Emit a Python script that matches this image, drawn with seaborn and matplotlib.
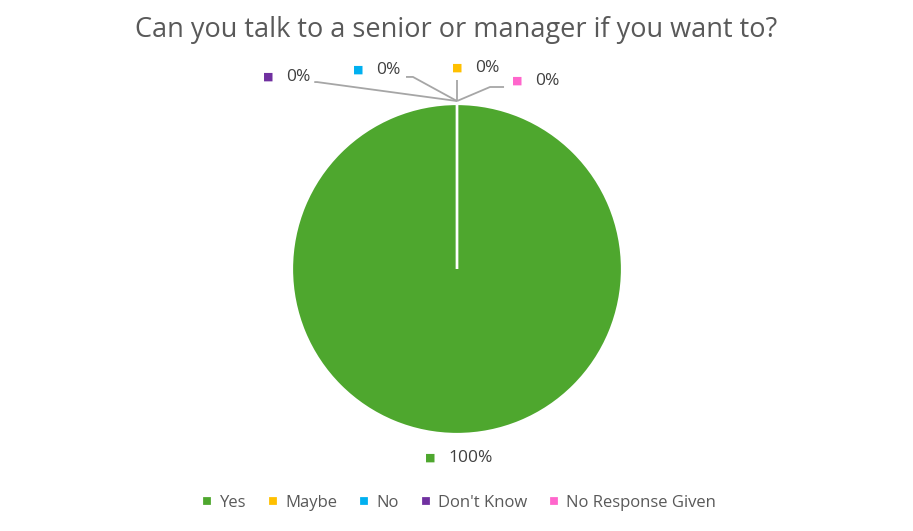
import matplotlib
matplotlib.use("Agg")
import matplotlib.pyplot as plt
import seaborn as sns

categories = ["Yes", "Maybe", "No", "Don't Know", "No Response Given"]
values = [100, 0, 0, 0, 0]
colors = ["#4EA72E", "#FFC000", "#00B0F0", "#7030A0", "#FF66CC"]
title = "Can you talk to a senior or manager if you want to?"

# label layout (data units, pie radius = 1): left edge of the text
label_pos = {
    "Yes": (-0.055, -1.145),
    "Maybe": (0.109, 1.218),
    "No": (-0.491, 1.206),
    "Don't Know": (-1.036, 1.164),
    "No Response Given": (0.473, 1.139),
}
leaders = {
    "Maybe": [(0, 1.018), (0, 1.145)],
    "No": [(0, 1.018), (-0.267, 1.164), (-0.309, 1.164)],
    "Don't Know": [(0, 1.018), (-0.848, 1.133), (-0.865, 1.133)],
    "No Response Given": [(0, 1.018), (0.2, 1.103), (0.285, 1.103)],
}

sns.set_theme(style="white")
plt.rcParams["font.family"] = ["Open Sans", "DejaVu Sans"]

fig = plt.figure(figsize=(9.13, 5.31), dpi=100)
ax = fig.add_axes([0, 0, 1, 1])

wedges, _ = ax.pie(values, colors=colors, startangle=90, counterclock=False,
                   wedgeprops=dict(edgecolor="white", linewidth=1.6))

for cat, pts in leaders.items():
    xs, ys = zip(*pts)
    ax.plot(xs, ys, color="#A6A6A6", lw=1.3, solid_capstyle="butt", zorder=1)

total = sum(values)
for cat, val, col in zip(categories, values, colors):
    x, y = label_pos[cat]
    ax.text(x - 0.075, y, "■", color=col, fontsize=8, ha="right", va="center")
    ax.text(x, y, f"{val / total:.0%}", color="#404040", fontsize=12.5,
            ha="left", va="center")

ax.set_xlim(-457 / 165, 456 / 165)
ax.set_ylim(-262 / 165, 269 / 165)
ax.set_aspect("equal")
ax.axis("off")

fig.text(0.5, 1 - 30 / 531, title, ha="center", va="center",
         fontsize=19.5, color="#595959")

fig.legend(wedges, categories, loc="center", bbox_to_anchor=(0.503, 1 - 503 / 531),
           ncol=5, frameon=False, fontsize=12, handlelength=0.6, handleheight=0.6,
           handletextpad=0.45, columnspacing=1.3, labelcolor="#595959")

fig.savefig("out.png", dpi=100)
